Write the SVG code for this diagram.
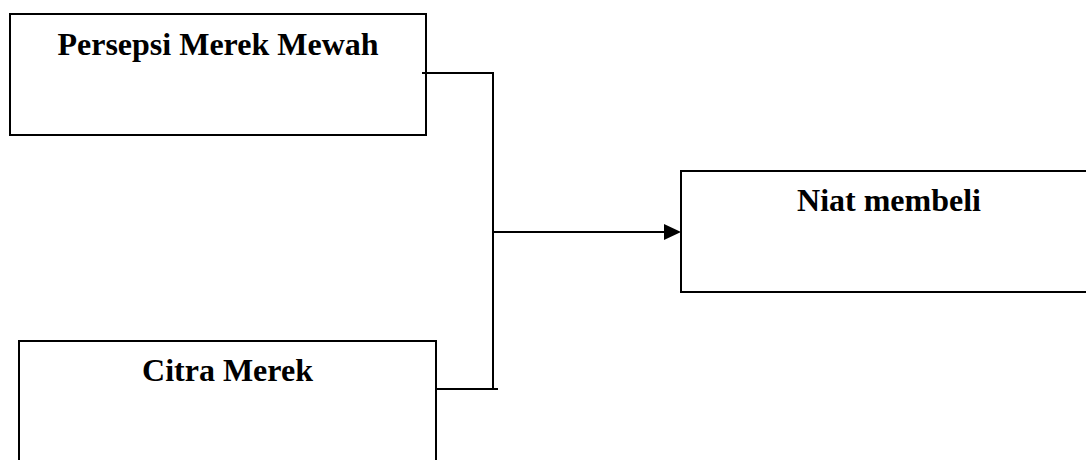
<svg xmlns="http://www.w3.org/2000/svg" width="1086" height="460" viewBox="0 0 1086 460">
  <defs>
    <style>
      .box { fill: #ffffff; stroke: #000000; stroke-width: 2; }
      .label { font-family: "Liberation Serif", "Times New Roman", serif; font-weight: bold; font-size: 32px; fill: #000000; text-anchor: middle; }
      .wire { fill: none; stroke: #000000; stroke-width: 2; }
    </style>
    <marker id="arrow" viewBox="0 0 10 10" refX="10" refY="5" markerWidth="8" markerHeight="8" markerUnits="userSpaceOnUse" orient="auto">
      <path d="M0,0 L10,5 L0,10 Z" fill="#000000"/>
    </marker>
  </defs>
  <rect width="1086" height="460" fill="#ffffff"/>

  <g id="node-persepsi">
    <rect class="box" x="10" y="14" width="416" height="121"/>
    <text class="label" x="218" y="55">Persepsi Merek Mewah</text>
  </g>

  <g id="node-citra">
    <rect class="box" x="19" y="341" width="417" height="121"/>
    <text class="label" x="227.5" y="381">Citra Merek</text>
  </g>

  <g id="node-niat">
    <rect class="box" x="681" y="171" width="416" height="121"/>
    <text class="label" x="889" y="211">Niat membeli</text>
  </g>

  <g id="connectors">
    <path class="wire" d="M422,73 H493 V389"/>
    <path class="wire" d="M436,389 H498"/>
    <path class="wire" d="M493,232 H665"/>
    <path d="M664,224 L681,232 L664,240 Z" fill="#000000"/>
  </g>
</svg>
